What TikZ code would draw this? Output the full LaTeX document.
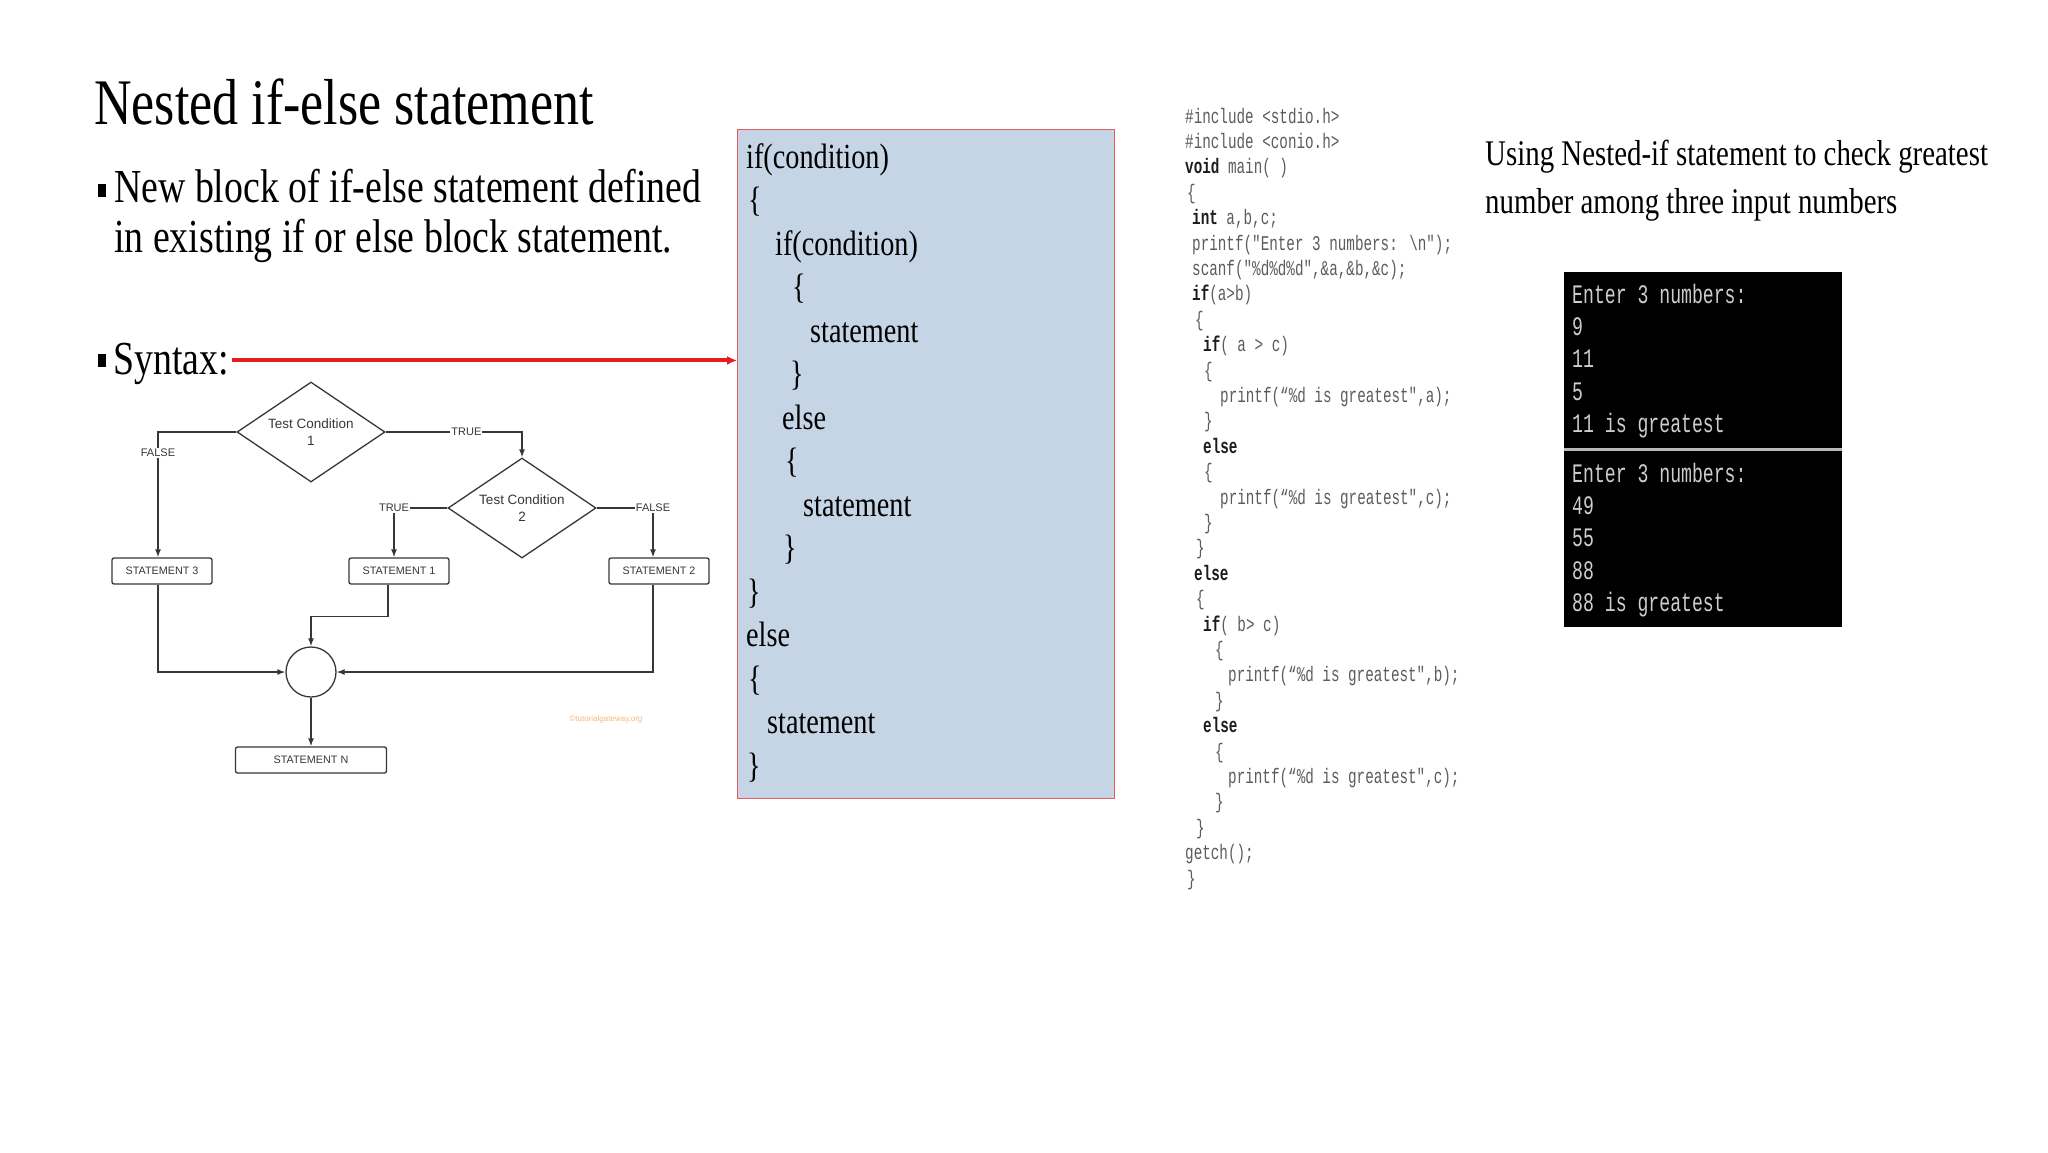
\documentclass[tikz,border=0pt]{standalone}
\usepackage{fontspec}
\setmainfont[FakeStretch=0.80]{Liberation Serif}
\newfontfamily\monof[FakeStretch=0.68]{Liberation Mono}
\newfontfamily\sansf{Liberation Sans}
\usetikzlibrary{shapes.geometric,arrows.meta}
\definecolor{boxblue}{RGB}{197,213,229}
\definecolor{boxred}{RGB}{228,92,92}
\definecolor{arrred}{RGB}{228,30,30}
\definecolor{codegray}{RGB}{92,92,92}
\definecolor{codedark}{RGB}{28,28,28}
\definecolor{termtext}{RGB}{205,205,205}
\definecolor{flowline}{RGB}{55,55,55}
\definecolor{wmark}{RGB}{242,188,120}
\newcommand{\ckw}[1]{{\bfseries\color{codedark}#1}}
\begin{document}
\begin{tikzpicture}[x=1pt,y=-1pt,
  ttl/.style={anchor=base west,inner sep=0,font=\fontsize{65}{70}\selectfont},
  btxt/.style={anchor=base west,inner sep=0,font=\fontsize{47.3}{50}\selectfont},
  rtxt/.style={anchor=base west,inner sep=0,font=\fontsize{36.1}{40}\selectfont},
  stx/.style={anchor=base west,inner sep=0,font=\fontsize{35.3}{40}\selectfont},
  bsq/.style={fill=black,inner sep=0,minimum width=8,minimum height=13},
  cline/.style={anchor=base west,inner sep=0,font=\monof\fontsize{21}{25}\selectfont,text=codegray},
  tline/.style={anchor=base west,inner sep=0,font=\monof\fontsize{26.7}{30}\selectfont,text=termtext},
  fbox/.style={draw=flowline,line width=1.3,rounded corners=2,minimum height=26,inner sep=0,fill=white,text=flowline,font=\sansf\fontsize{10.8}{12}\selectfont},
  dia/.style={diamond,draw=flowline,line width=1.3,minimum width=148,minimum height=100,aspect=1.48,inner sep=0,align=center,text=flowline,font=\sansf\fontsize{13.5}{17}\selectfont},
  lbl/.style={fill=white,inner sep=1,text=flowline,font=\sansf\fontsize{11}{12}\selectfont},
  conn/.style={draw=flowline,line width=1.3,-{Latex[length=8,width=6]}},
  redarr/.style={draw=arrred,line width=4,-{Latex[length=10,width=9]}},
  panel/.style={fill=black,anchor=north west,minimum width=278,minimum height=176,inner sep=0}
]
\fill[white] (0,0) rectangle (2048,1152);
\useasboundingbox (0,0) rectangle (2048,1152);

% ---------- left text ----------
\node[ttl] (title) at (94,124) {Nested if-else statement};
\node[bsq] (bq1) at (102,190) {};
\node[btxt] (bl1) at (114,202) {New block of if-else statement defined};
\node[btxt] (bl2) at (114,252) {in existing if or else block statement.};
\node[bsq] (bq2) at (102,360) {};
\node[btxt] (syn) at (113,374) {Syntax:};

% ---------- syntax box ----------
\node[draw=boxred,fill=boxblue,line width=1.3,anchor=north west,minimum width=377,minimum height=669,inner sep=0] (box) at (737,129) {};
\coordinate (rs) at ([xshift=3,yshift=3]syn.east);
\draw[redarr] (rs) -- (rs -| box.west);

\node[stx] (b0) at (746,168) {if(condition)};
\node[stx] (b1) at (748,211.5) {\{};
\node[stx] (b2) at (775,255) {if(condition)};
\node[stx] (b3) at (792,298.5) {\{};
\node[stx] (b4) at (810,342) {statement};
\node[stx] (b5) at (790,385.5) {\}};
\node[stx] (b6) at (782,429) {else};
\node[stx] (b7) at (785,472.5) {\{};
\node[stx] (b8) at (803,516) {statement};
\node[stx] (b9) at (783,559.5) {\}};
\node[stx] (b10) at (747,603) {\}};
\node[stx] (b11) at (746,646.5) {else};
\node[stx] (b12) at (748,690) {\{};
\node[stx] (b13) at (767,733.5) {statement};
\node[stx] (b14) at (747,777) {\}};

% ---------- flowchart ----------
\node[dia] (d1) at (311,432) {Test Condition\\1};
\node[dia] (d2) at (522,508) {Test Condition\\2};
\node[fbox,minimum width=100] (s3) at (162,571) {STATEMENT 3};
\node[fbox,minimum width=100] (s1) at (399,571) {STATEMENT 1};
\node[fbox,minimum width=100] (s2) at (659,571) {STATEMENT 2};
\node[circle,draw=flowline,line width=1.3,minimum size=50,inner sep=0] (j) at (311,672) {};
\node[fbox,minimum width=151] (sn) at (311,760) {STATEMENT N};

\draw[conn] (d1.west) -| node[lbl,pos=0.583] (lf1) {FALSE} ([xshift=-4]s3.north);
\draw[conn] (d1.east) -| node[lbl,pos=0.296] (lt1) {TRUE} (d2.north);
\draw[conn] (d2.west) -| node[lbl,pos=0.5] (lt2) {TRUE} ([xshift=-5]s1.north);
\draw[conn] (d2.east) -| node[lbl,pos=0.5] (lf2) {FALSE} ([xshift=-6]s2.north);
\draw[conn] ([xshift=-4]s3.south) |- (j.west);
\draw[conn] ([xshift=-11]s1.south) -- ++(0,32) -| (j.north);
\draw[conn] ([xshift=-6]s2.south) |- (j.east);
\draw[conn] (j.south) -- (sn.north);
\node[text=wmark,inner sep=0,font=\sansf\fontsize{8}{9}\selectfont] (wm) at (606,719) {©tutorialgateway.org};

% ---------- code ----------
\node[cline] (c0) at (1185,123) {\#include <stdio.h>};
\node[cline] (c1) at (1185,148.4) {\#include <conio.h>};
\node[cline] (c2) at (1185,173.8) {\ckw{void} main( )};
\node[cline] (c3) at (1187,199.2) {\{};
\node[cline] (c4) at (1192,224.6) {\ckw{int} a,b,c;};
\node[cline] (c5) at (1192,250.0) {printf("Enter 3 numbers: \textbackslash n");};
\node[cline] (c6) at (1192,275.4) {scanf("\%d\%d\%d",\&a,\&b,\&c);};
\node[cline] (c7) at (1192,300.8) {\ckw{if}(a>b)};
\node[cline] (c8) at (1195,326.2) {\{};
\node[cline] (c9) at (1203,351.6) {\ckw{if}( a > c)};
\node[cline] (c10) at (1204,377.0) {\{};
\node[cline] (c11) at (1220,402.4) {printf(“\%d is greatest",a);};
\node[cline] (c12) at (1204,427.8) {\}};
\node[cline] (c13) at (1203,453.2) {\ckw{else}};
\node[cline] (c14) at (1204,478.6) {\{};
\node[cline] (c15) at (1220,504.0) {printf(“\%d is greatest",c);};
\node[cline] (c16) at (1204,529.4) {\}};
\node[cline] (c17) at (1196,554.8) {\}};
\node[cline] (c18) at (1194,580.2) {\ckw{else}};
\node[cline] (c19) at (1196,605.6) {\{};
\node[cline] (c20) at (1203,631.0) {\ckw{if}( b> c)};
\node[cline] (c21) at (1215,656.4) {\{};
\node[cline] (c22) at (1228,681.8) {printf(“\%d is greatest",b);};
\node[cline] (c23) at (1215,707.2) {\}};
\node[cline] (c24) at (1203,732.6) {\ckw{else}};
\node[cline] (c25) at (1215,758.0) {\{};
\node[cline] (c26) at (1228,783.4) {printf(“\%d is greatest",c);};
\node[cline] (c27) at (1215,808.8) {\}};
\node[cline] (c28) at (1196,834.2) {\}};
\node[cline] (c29) at (1185,859.6) {getch();};
\node[cline] (c30) at (1187,885.0) {\}};

% ---------- right side ----------
\node[rtxt] (r1) at (1485,165) {Using Nested-if statement to check greatest};
\node[rtxt] (r2) at (1485,213) {number among three input numbers};

\node[panel] (tp1) at (1564,272) {};
\node[panel] (tp2) at (1564,451) {};
\fill[gray!55] (tp1.south west) rectangle (tp2.north east);

\node[tline] (t1) at (1572,303) {Enter 3 numbers:};
\node[tline] (t2) at (1572,335.4) {9};
\node[tline] (t3) at (1572,367.8) {11};
\node[tline] (t4) at (1572,400.2) {5};
\node[tline] (t5) at (1572,432.6) {11 is greatest};
\node[tline] (t6) at (1572,482) {Enter 3 numbers:};
\node[tline] (t7) at (1572,514.4) {49};
\node[tline] (t8) at (1572,546.8) {55};
\node[tline] (t9) at (1572,579.2) {88};
\node[tline] (t10) at (1572,611.6) {88 is greatest};
\end{tikzpicture}
\end{document}
